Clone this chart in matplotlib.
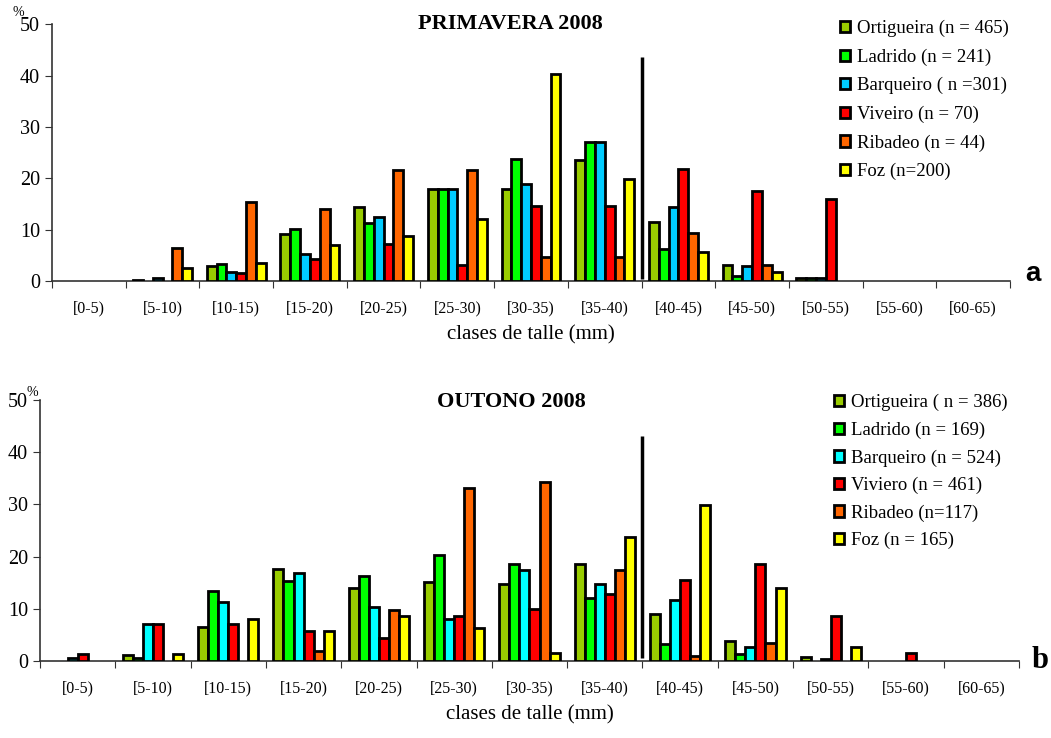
import numpy as np
import matplotlib
matplotlib.use("Agg")
import matplotlib.pyplot as plt
from matplotlib.patches import Patch

plt.rcParams['font.family'] = ['Liberation Serif', 'DejaVu Serif']

classes = ["[0-5)", "[5-10)", "[10-15)", "[15-20)", "[20-25)", "[25-30)", "[30-35)",
           "[35-40)", "[40-45)", "[45-50)", "[50-55)", "[55-60)", "[60-65)"]

# primavera 2008 (%)
prim_labels = ["Ortigueira (n = 465)", "Ladrido (n = 241)", "Barqueiro ( n =301)",
               "Viveiro (n = 70)", "Ribadeo (n = 44)", "Foz (n=200)"]
prim_ortigueira = [0, 0.3, 2.9, 9.1, 14.4, 17.9, 17.9, 23.6, 11.6, 3.1, 0.6, 0, 0]
prim_ladrido    = [0, 0, 3.4, 10.1, 11.4, 17.9, 23.8, 27.0, 6.2, 1.0, 0.6, 0, 0]
prim_barqueiro  = [0, 0.6, 1.8, 5.3, 12.5, 17.9, 19.0, 27.0, 14.4, 2.9, 0.6, 0, 0]
prim_viveiro    = [0, 0, 1.5, 4.4, 7.3, 3.1, 14.7, 14.7, 21.9, 17.6, 16.0, 0, 0]
prim_ribadeo    = [0, 6.4, 15.5, 14.1, 21.6, 21.6, 4.7, 4.7, 9.4, 3.1, 0, 0, 0]
prim_foz        = [0, 2.6, 3.6, 7.1, 8.8, 12.2, 40.3, 19.8, 5.6, 1.7, 0, 0, 0]

# outono 2008 (%)
out_labels = ["Ortigueira ( n = 386)", "Ladrido (n = 169)", "Barqueiro (n = 524)",
              "Viviero (n = 461)", "Ribadeo (n=117)", "Foz (n = 165)"]
out_ortigueira = [0, 1.1, 6.6, 17.6, 13.9, 15.1, 14.8, 18.5, 9.1, 3.8, 0.7, 0, 0]
out_ladrido    = [0, 0.6, 13.4, 15.3, 16.3, 20.4, 18.5, 12.0, 3.2, 1.3, 0, 0, 0]
out_barqueiro  = [0.6, 7.0, 11.3, 16.9, 10.4, 8.0, 17.4, 14.8, 11.6, 2.7, 0.4, 0, 0]
out_viviero    = [1.4, 7.0, 7.0, 5.7, 4.5, 8.6, 10.0, 12.8, 15.5, 18.5, 8.7, 1.5, 0]
out_ribadeo    = [0, 0, 0, 1.9, 9.8, 33.1, 34.2, 17.4, 1.0, 3.5, 0, 0, 0]
out_foz        = [0, 1.3, 8.1, 5.7, 8.7, 6.3, 1.5, 23.8, 29.9, 13.9, 2.6, 0, 0]

prim_cols = ["#99CC00", "#00FF00", "#00CCFF", "#FF0000", "#FF6600", "#FFFF00"]
out_cols = ["#99CC00", "#00FF00", "#00FFFF", "#FF0000", "#FF6600", "#FFFF00"]

# separator line heights at the 40 mm boundary
prim_sep = 43.6
out_sep = 43.1


def draw(ax, series, cols, labels, sep, leg_anchor, leg_space):
    n = len(classes)
    w = 1 / 7.5
    x = np.arange(n) + 0.5
    for j, (vals, c) in enumerate(zip(series, cols)):
        vals = np.array(vals, dtype=float)
        keep = vals > 0  # empty classes draw nothing
        ax.bar((x + (j - 2.5) * w)[keep], vals[keep], width=w, color=c,
               edgecolor="black", linewidth=2, zorder=3)
    ax.vlines(8, 0.5, sep, color="black", linewidth=2.5, zorder=4)
    ax.set_xlim(0, n)
    ax.set_ylim(0, 50)
    ax.set_yticks(range(0, 51, 10))
    ax.set_xticks(range(0, n + 1))
    ax.set_xticklabels([])
    ax.set_xticks(x, minor=True)
    ax.set_xticklabels(classes, minor=True, fontsize=11.5)
    ax.tick_params(axis="x", which="minor", length=0, pad=14)
    ax.tick_params(axis="x", which="major", length=5, direction="out", color="#333333")
    ax.tick_params(axis="y", length=5, direction="out", labelsize=14.5, color="#333333")
    for s in ["top", "right"]:
        ax.spines[s].set_visible(False)
    for s in ["left", "bottom"]:
        ax.spines[s].set_color("#333333")
        ax.spines[s].set_linewidth(1.2)
    ax.set_xlabel("clases de talle (mm)", fontsize=15, labelpad=6)
    handles = [Patch(facecolor=c, edgecolor="black", linewidth=2) for c in cols]
    ax.figure.legend(handles, labels, loc="upper left", bbox_to_anchor=leg_anchor,
                     frameon=False, fontsize=13.5, handlelength=0.55, handleheight=0.55,
                     handletextpad=0.35, labelspacing=leg_space, borderpad=0,
                     borderaxespad=0)


fig = plt.figure(figsize=(10.51, 7.38), dpi=100)
ax1 = fig.add_axes([0.0495, 0.619, 0.9115, 0.348])
ax2 = fig.add_axes([0.038, 0.1043, 0.9316, 0.3537])

draw(ax1, [prim_ortigueira, prim_ladrido, prim_barqueiro, prim_viveiro, prim_ribadeo, prim_foz],
     prim_cols, prim_labels, prim_sep, (840 / 1051, 1 - 20 / 738), 0.6)
draw(ax2, [out_ortigueira, out_ladrido, out_barqueiro, out_viviero, out_ribadeo, out_foz],
     out_cols, out_labels, out_sep, (834 / 1051, 1 - 394 / 738), 0.55)

fig.text(510 / 1051, 1 - 24 / 738, "PRIMAVERA 2008", fontsize=16, fontweight="bold",
         ha="center", va="center")
fig.text(511 / 1051, 1 - 402 / 738, "OUTONO 2008", fontsize=16, fontweight="bold",
         ha="center", va="center")

fig.text(18 / 1051, 1 - 12 / 738, "%", fontsize=10, ha="center", va="center")
fig.text(32 / 1051, 1 - 392 / 738, "%", fontsize=10, ha="center", va="center")
fig.text(1033 / 1051, 1 - 274 / 738, "a", fontsize=20, fontweight="bold",
         family=["Liberation Sans", "DejaVu Sans"], ha="center", va="center")
fig.text(1040 / 1051, 1 - 660 / 738, "b", fontsize=22, fontweight="bold",
         ha="center", va="center")

fig.savefig("out.png", dpi=100)
